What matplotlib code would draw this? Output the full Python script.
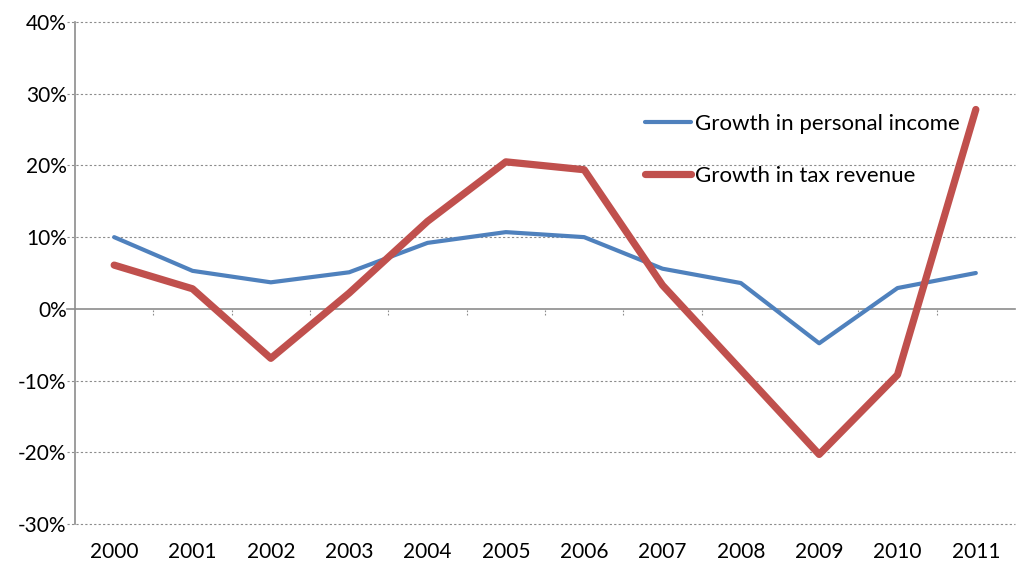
import matplotlib
matplotlib.use('Agg')
import matplotlib.pyplot as plt
import numpy as np

# datos
years = ["2000", "2001", "2002", "2003", "2004", "2005", "2006", "2007", "2008", "2009", "2010", "2011"]
income = [10.0, 5.3, 3.7, 5.1, 9.2, 10.7, 10.0, 5.6, 3.6, -4.8, 2.9, 5.0]
tax = [6.1, 2.8, -6.9, 2.2, 12.2, 20.5, 19.4, 3.3, -8.5, -20.3, -9.2, 27.8]

plt.rcParams['font.family'] = ['Lato', 'DejaVu Sans']

fig = plt.figure(figsize=(10.22, 5.61), dpi=100)
ax = fig.add_axes([75/1022, 1-524/561, 940/1022, 502/561])

x = np.arange(len(years))
ax.plot(x, income, color='#4F81BD', lw=3, solid_capstyle='round', solid_joinstyle='round',
        label='Growth in personal income', zorder=3)
ax.plot(x, tax, color='#C0504D', lw=5.2, solid_capstyle='round', solid_joinstyle='round',
        label='Growth in tax revenue', zorder=3)

ax.set_xlim(-0.5, len(years) - 0.5)
ax.set_ylim(-30, 40)

# rejilla
for v in range(-30, 41, 10):
    if v == 0:
        continue
    ax.axhline(v, color='#8c8c8c', lw=0.8, ls=(0, (2, 2)), zorder=1, xmin=-0.008, clip_on=False)
ax.axhline(0, color='#8c8c8c', lw=1.2, zorder=2, xmin=-0.008, clip_on=False)
ax.vlines(np.arange(0.5, len(years) - 1, 1), -0.9, 0, color='#8c8c8c', lw=0.8,
          linestyles=(0, (1.5, 1.5)), zorder=2)

ax.set_xticks(x)
ax.set_xticklabels(years)
ax.set_yticks(range(-30, 41, 10))
ax.set_yticklabels(['%d%%' % v for v in range(-30, 41, 10)])
ax.tick_params(axis='both', length=0, labelsize=15, colors='black')
ax.tick_params(axis='x', pad=13)
ax.tick_params(axis='y', pad=6)

for s in ['top', 'right', 'bottom']:
    ax.spines[s].set_visible(False)
ax.spines['left'].set_color('#8c8c8c')
ax.spines['left'].set_linewidth(1.2)

leg = ax.legend(loc='upper left', bbox_to_anchor=(625/1022, 1-94/561), bbox_transform=fig.transFigure,
                frameon=False, fontsize=16, handlelength=2.05, handletextpad=0.2, labelspacing=1.45)

plt.savefig('out.png', dpi=100)
